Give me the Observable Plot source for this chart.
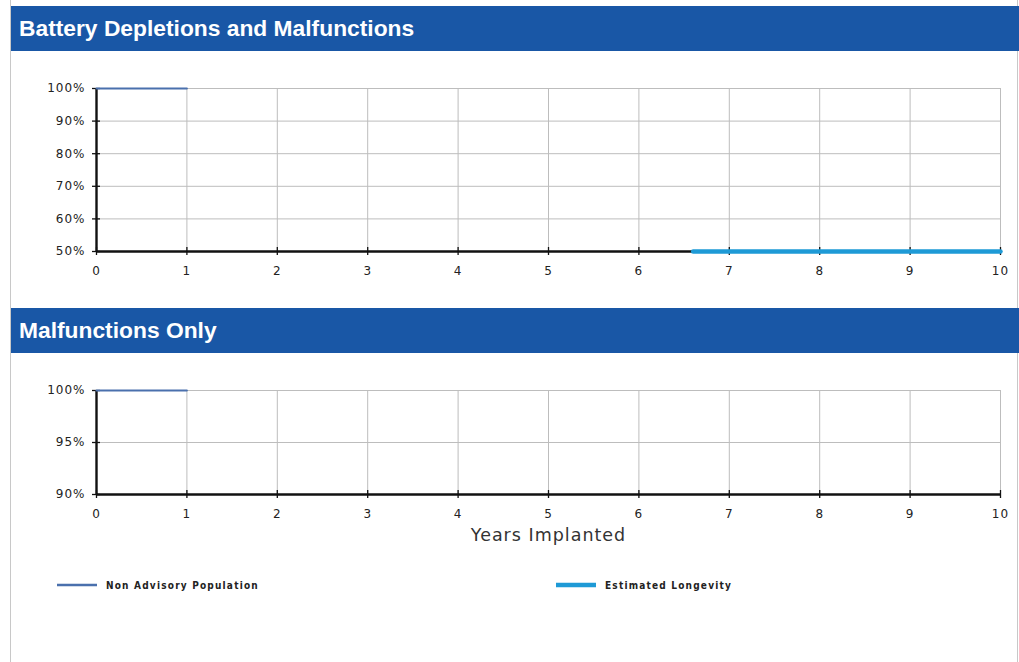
<!DOCTYPE html>
<html>
<head>
<meta charset="utf-8">
<script src="https://cdn.jsdelivr.net/npm/d3@7"></script>
<script src="https://cdn.jsdelivr.net/npm/@observablehq/plot@0.6"></script>
<style>
  html, body { margin: 0; padding: 0; background: #fff; }
  #page { position: relative; width: 1019px; height: 662px; overflow: hidden; }
  #frame { position: absolute; left: 10px; top: 0; width: 1008px; height: 662px; border-left: 1px solid #c8c8c8; border-right: 1px solid #c8c8c8; box-sizing: border-box; }
  .hdr { position: absolute; left: 11px; width: 1008px; height: 45px; background: #1957a6; color: #fff;
         font-family: "Liberation Sans", Arial, sans-serif; font-weight: bold; font-size: 22.8px; line-height: 45px;
         padding-left: 8px; box-sizing: border-box; }
  .plotwrap { position: absolute; left: 10px; }
  #legend { position: absolute; left: 0; top: 575px; width: 1019px; height: 20px;
            font-family: "DejaVu Sans Condensed", "DejaVu Sans", sans-serif; font-weight: bold; font-size: 10px; letter-spacing: 1.2px; color: #222; }
  .li { position: absolute; top: 0; height: 20px; display: flex; align-items: center; }
  .li svg { margin-right: 9px; }
</style>
</head>
<body>
<div id="page">
  <div id="frame"></div>
  <div class="hdr" style="top:6px">Battery Depletions and Malfunctions</div>
  <div class="plotwrap" id="p1" style="top:50px"></div>
  <div class="hdr" style="top:308px">Malfunctions Only</div>
  <div class="plotwrap" id="p2" style="top:352px"></div>
  <div id="legend"></div>
</div>
<script>
// ---- data ----
const years = [0, 1, 2, 3, 4, 5, 6, 7, 8, 9, 10];
const chart1YTicks = [50, 60, 70, 80, 90, 100];
const chart2YTicks = [90, 95, 100];
const nonAdvisoryYears = [0, 1];
const nonAdvisoryChart1 = [100, 100];
const nonAdvisoryChart2 = [100, 100];
const longevityYears = [6.6, 10];
const longevityChart1 = [50, 50];
const seriesNames = ["Non Advisory Population", "Estimated Longevity"];
const seriesColors = ["#4a70ad", "#1e9ad6"];
const xLabel = "Years Implanted";

const nonAdv1 = nonAdvisoryYears.map((x, i) => ({x, y: nonAdvisoryChart1[i]}));
const nonAdv2 = nonAdvisoryYears.map((x, i) => ({x, y: nonAdvisoryChart2[i]}));
const longev1 = longevityYears.map((x, i) => ({x, y: longevityChart1[i]}));

const fontFam = "'DejaVu Sans', sans-serif";

function makeChart({height, marginBottom, yDomain, yTicks, series, withLabel}) {
  const marks = [
    Plot.gridX(years, {stroke: "#bdbdbd", strokeOpacity: 1, strokeWidth: 1}),
    Plot.gridY(yTicks, {stroke: "#bdbdbd", strokeOpacity: 1, strokeWidth: 1}),
    Plot.ruleX([0], {stroke: "#111", strokeWidth: 2.4}),
    Plot.ruleY([yDomain[0]], {stroke: "#111", strokeWidth: 2.4}),
    Plot.axisX(years, {anchor: "bottom", tickSize: 8, dy: -4, text: null, label: null, stroke: "#111", strokeWidth: 1.3}),
    Plot.axisY(yTicks, {anchor: "left", tickSize: 8, dx: 4, text: null, label: null, stroke: "#111", strokeWidth: 1.3}),
    Plot.axisX(years, {anchor: "bottom", tickSize: 0, tickPadding: 15, label: null, fontSize: 12, fill: "#222", fontFamily: fontFam}),
    Plot.axisY(yTicks, {anchor: "left", tickSize: 0, tickPadding: 11, label: null, fontSize: 12, fill: "#222", fontFamily: fontFam, tickFormat: d => d + "%"}),
    ...series
  ];
  if (withLabel) {
    marks.push(Plot.text([xLabel], {frameAnchor: "bottom", dy: 46, fontSize: 17.5, fill: "#333", fontFamily: fontFam}));
  }
  return Plot.plot({
    width: 1009,
    height,
    marginLeft: 86,
    marginRight: 19,
    marginTop: 38,
    marginBottom,
    x: {domain: [0, 10]},
    y: {domain: yDomain},
    style: {background: "transparent", overflow: "visible", letterSpacing: "1px"},
    marks
  });
}

document.getElementById("p1").append(makeChart({
  height: 231, marginBottom: 30, yDomain: [50, 100], yTicks: chart1YTicks,
  series: [
    Plot.line(nonAdv1, {x: "x", y: "y", stroke: seriesColors[0], strokeWidth: 2}),
    Plot.line(longev1, {x: "x", y: "y", stroke: seriesColors[1], strokeWidth: 4.5})
  ]
}));

document.getElementById("p2").append(makeChart({
  height: 192, marginBottom: 50, yDomain: [90, 100], yTicks: chart2YTicks,
  series: [
    Plot.line(nonAdv2, {x: "x", y: "y", stroke: seriesColors[0], strokeWidth: 2})
  ],
  withLabel: true
}));

// legend
const legend = document.getElementById("legend");
const legendLeft = [57, 556];
const legendWidth = [2.5, 4.5];
seriesNames.forEach((name, i) => {
  const item = document.createElement("div");
  item.className = "li";
  item.style.left = legendLeft[i] + "px";
  item.innerHTML = `<svg width="40" height="8"><line x1="0" x2="40" y1="4" y2="4" stroke="${seriesColors[i]}" stroke-width="${legendWidth[i]}"/></svg><span>${name}</span>`;
  legend.append(item);
});
</script>
</body>
</html>
